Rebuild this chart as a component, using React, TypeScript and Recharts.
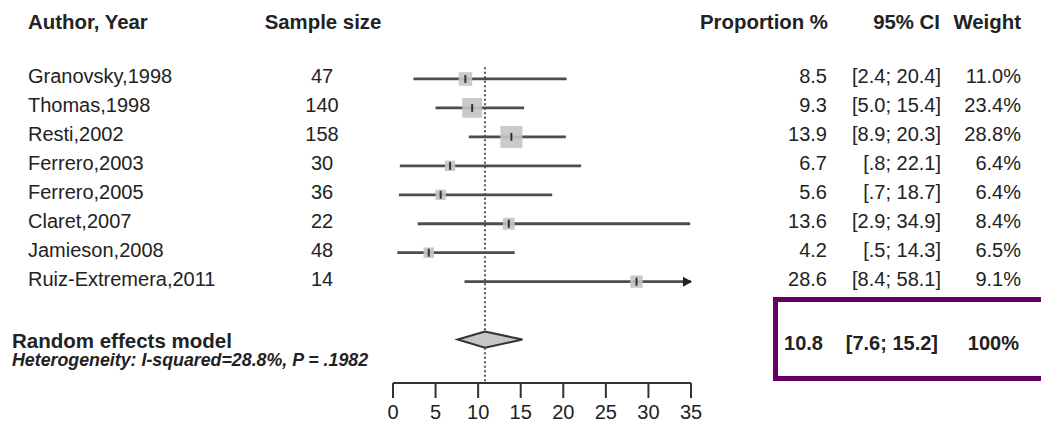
import React from "react";
import { ComposedChart, ReferenceArea, ReferenceLine, Scatter, XAxis, YAxis } from "recharts";

const authors = [
  "Granovsky,1998",
  "Thomas,1998",
  "Resti,2002",
  "Ferrero,2003",
  "Ferrero,2005",
  "Claret,2007",
  "Jamieson,2008",
  "Ruiz-Extremera,2011",
];
const sampleSizes = [47, 140, 158, 30, 36, 22, 48, 14];
const proportions = [8.5, 9.3, 13.9, 6.7, 5.6, 13.6, 4.2, 28.6];
const ciLow = [2.4, 5.0, 8.9, 0.8, 0.7, 2.9, 0.5, 8.4];
const ciHigh = [20.4, 15.4, 20.3, 22.1, 18.7, 34.9, 14.3, 58.1];
const weights = [11.0, 23.4, 28.8, 6.4, 6.4, 8.4, 6.5, 9.1];

const pooledEst = 10.8;
const pooledLow = 7.6;
const pooledHigh = 15.2;
const iSquared = 28.8;
const pValue = ".1982";

const xTicks = [0, 5, 10, 15, 20, 25, 30, 35];
const xMax = 35;

const FONT = '"Liberation Sans", Arial, sans-serif';
const INK = "#222";

// row 1..8 for the studies, the pooled estimate sits two rows lower
const rowPos = authors.map((_, i) => i + 1);
const pooledRow = 10;
const yTicks = [...rowPos, pooledRow];
const diamondHalf = 0.28;

const fmt = (v: number) => v.toFixed(1).replace(/^0\./, ".");
const points = proportions.map((p, i) => ({ x: p, y: rowPos[i], w: weights[i] }));

function LeftTick(props: any) {
  const { y, payload } = props;
  const v = payload.value;
  if (v === pooledRow) {
    return (
      <g fontFamily={FONT} fill={INK}>
        <text x={12} y={y + 8} fontSize={20.5} fontWeight="bold">
          Random effects model
        </text>
        <text x={12} y={y + 26.5} fontSize={17.8} fontWeight="bold" fontStyle="italic">
          {`Heterogeneity: I-squared=${iSquared}%, P = ${pValue}`}
        </text>
      </g>
    );
  }
  const i = v - 1;
  return (
    <g fontFamily={FONT} fontSize={20} fill={INK}>
      <text x={28} y={y + 4}>{authors[i]}</text>
      <text x={322} y={y + 4} textAnchor="middle">{sampleSizes[i]}</text>
    </g>
  );
}

function RightTick(props: any) {
  const { y, payload } = props;
  const v = payload.value;
  if (v === pooledRow) {
    return (
      <g fontFamily={FONT} fontSize={20} fontWeight="bold" fill={INK} textAnchor="end">
        <text x={823} y={y + 10}>{fmt(pooledEst)}</text>
        <text x={938} y={y + 10}>{`[${fmt(pooledLow)}; ${fmt(pooledHigh)}]`}</text>
        <text x={1019} y={y + 10}>100%</text>
      </g>
    );
  }
  const i = v - 1;
  return (
    <g fontFamily={FONT} fontSize={20} fill={INK} textAnchor="end">
      <text x={827} y={y + 4}>{fmt(proportions[i])}</text>
      <text x={941} y={y + 4}>{`[${fmt(ciLow[i])}; ${fmt(ciHigh[i])}]`}</text>
      <text x={1021} y={y + 4}>{`${weights[i].toFixed(1)}%`}</text>
    </g>
  );
}

// square area follows the study weight
function Square(props: any) {
  const { cx, cy, payload } = props;
  const s = 4.1 * Math.sqrt(payload.w);
  return (
    <g>
      <rect x={cx - s / 2} y={cy - s / 2} width={s} height={s} fill="#c4c4c4" fillOpacity={0.9} />
      <line x1={cx} x2={cx} y1={cy - 4} y2={cy + 4} stroke="#333" strokeWidth={2} />
    </g>
  );
}

const ciShape = (clipped: boolean) => (p: any) => (
  <g>
    <line x1={p.x1} y1={p.y1} x2={p.x2} y2={p.y2} stroke="#4d4d4d" strokeWidth={2.8} />
    {clipped && (
      <polygon
        points={`${p.x2 + 1},${p.y2} ${p.x2 - 8},${p.y2 - 5} ${p.x2 - 8},${p.y2 + 5}`}
        fill="#222"
      />
    )}
  </g>
);

function Diamond(props: any) {
  const { x, y, width, height } = props;
  const f = (pooledEst - pooledLow) / (pooledHigh - pooledLow);
  const mx = x + width * f;
  const my = y + height / 2;
  return (
    <polygon
      points={`${x},${my} ${mx},${y} ${x + width},${my} ${mx},${y + height}`}
      fill="#c6c6c6"
      stroke="#333"
      strokeWidth={2}
    />
  );
}

const dotted = {
  stroke: "#555",
  strokeWidth: 2,
  strokeDasharray: "2 2.5",
};

export default function App() {
  return (
    <div
      style={{
        position: "absolute",
        left: 0,
        top: 0,
        width: 1041,
        height: 431,
        overflow: "hidden",
        background: "#fff",
      }}
    >
      <svg
        width={1041}
        height={60}
        style={{ position: "absolute", left: 0, top: 0 }}
        fontFamily={FONT}
        fontSize={20.4}
        fontWeight="bold"
        fill={INK}
      >
        <text x={28} y={29}>Author, Year</text>
        <text x={323} y={29} textAnchor="middle">Sample size</text>
        <text x={828} y={29} textAnchor="end">Proportion %</text>
        <text x={940} y={29} textAnchor="end">95% CI</text>
        <text x={1021} y={29} textAnchor="end">Weight</text>
      </svg>

      <ComposedChart
        width={1041}
        height={431}
        data={points}
        margin={{ top: 50, right: 0, bottom: 0, left: 0 }}
      >
        <XAxis
          type="number"
          dataKey="x"
          domain={[0, xMax]}
          ticks={xTicks}
          allowDataOverflow
          interval={0}
          height={48}
          tickSize={15}
          tickMargin={7}
          axisLine={{ stroke: "#333", strokeWidth: 2 }}
          tickLine={{ stroke: "#333", strokeWidth: 2 }}
          tick={{ fontSize: 20, fill: INK, fontFamily: FONT }}
        />
        <YAxis
          yAxisId="left"
          type="number"
          dataKey="y"
          domain={[0, 11.5]}
          reversed
          ticks={yTicks}
          interval={0}
          width={393}
          axisLine={false}
          tickLine={false}
          tick={<LeftTick />}
        />
        <YAxis
          yAxisId="right"
          orientation="right"
          type="number"
          dataKey="y"
          domain={[0, 11.5]}
          reversed
          ticks={yTicks}
          interval={0}
          width={350}
          axisLine={false}
          tickLine={false}
          tick={<RightTick />}
        />

        <ReferenceLine
          yAxisId="left"
          segment={[
            { x: pooledEst, y: 0.6 },
            { x: pooledEst, y: pooledRow - diamondHalf },
          ]}
          {...dotted}
          ifOverflow="visible"
        />
        <ReferenceLine
          yAxisId="left"
          segment={[
            { x: pooledEst, y: pooledRow + diamondHalf },
            { x: pooledEst, y: 11.5 },
          ]}
          {...dotted}
          ifOverflow="visible"
        />

        <Scatter yAxisId="left" data={points} shape={<Square />} isAnimationActive={false} />

        {rowPos.map((r, i) => (
          <ReferenceLine
            key={authors[i]}
            yAxisId="left"
            segment={[
              { x: ciLow[i], y: r },
              { x: Math.min(ciHigh[i], xMax), y: r },
            ]}
            ifOverflow="visible"
            shape={ciShape(ciHigh[i] > xMax)}
          />
        ))}

        <ReferenceArea
          yAxisId="left"
          x1={pooledLow}
          x2={pooledHigh}
          y1={pooledRow - diamondHalf}
          y2={pooledRow + diamondHalf}
          ifOverflow="visible"
          shape={<Diamond />}
        />
      </ComposedChart>

      <div
        style={{
          position: "absolute",
          left: 773,
          top: 297,
          width: 300,
          height: 84,
          border: "5px solid #650066",
          boxSizing: "border-box",
        }}
      />
    </div>
  );
}
